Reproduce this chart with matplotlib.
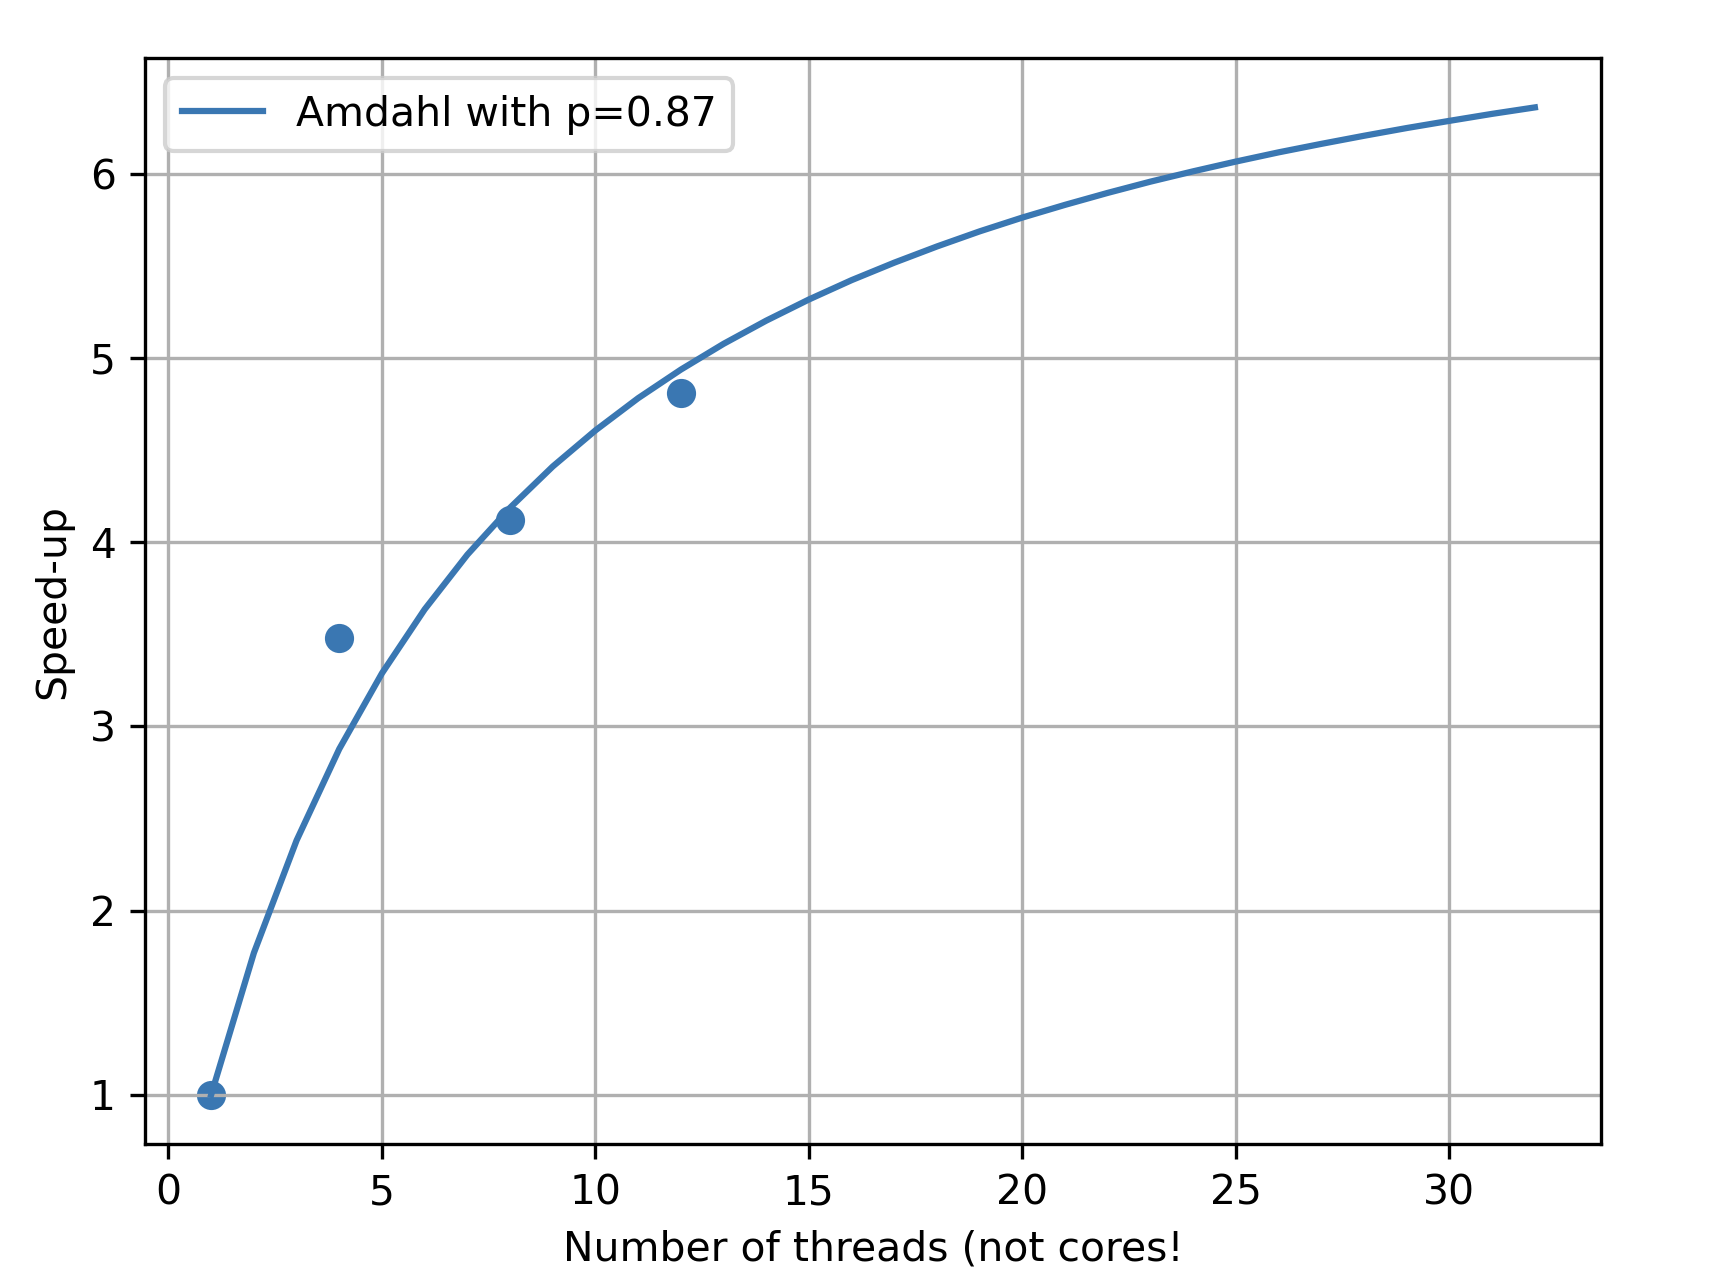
import matplotlib.pyplot as plt

# measured speed-up
threads = [1, 4, 8, 12]
speedup = [1.0, 3.48, 4.12, 4.81]

# Amdahl curve, p=0.87, read for n = 1..32
n_curve = list(range(1, 33))
amdahl = [1.000, 1.770, 2.381, 2.878, 3.289, 3.636, 3.933, 4.188,
          4.412, 4.608, 4.783, 4.938, 5.078, 5.204, 5.319, 5.424,
          5.519, 5.607, 5.689, 5.764, 5.833, 5.898, 5.959, 6.015,
          6.068, 6.118, 6.164, 6.208, 6.250, 6.289, 6.327, 6.362]

color = '#3a77b2'
plt.rcParams['font.size'] = 9.8

fig = plt.figure(figsize=(5.7, 4.28), dpi=300)
fig.subplots_adjust(left=0.0848, right=0.9363, top=0.9548, bottom=0.109)

plt.scatter(threads, speedup, color=color)
plt.plot(n_curve, amdahl, color=color, label='Amdahl with p=0.87')
plt.grid(True)
plt.xlabel('Number of threads (not cores!')
plt.ylabel('Speed-up')
plt.legend(loc='upper left')

plt.savefig('out.png', dpi=300)
